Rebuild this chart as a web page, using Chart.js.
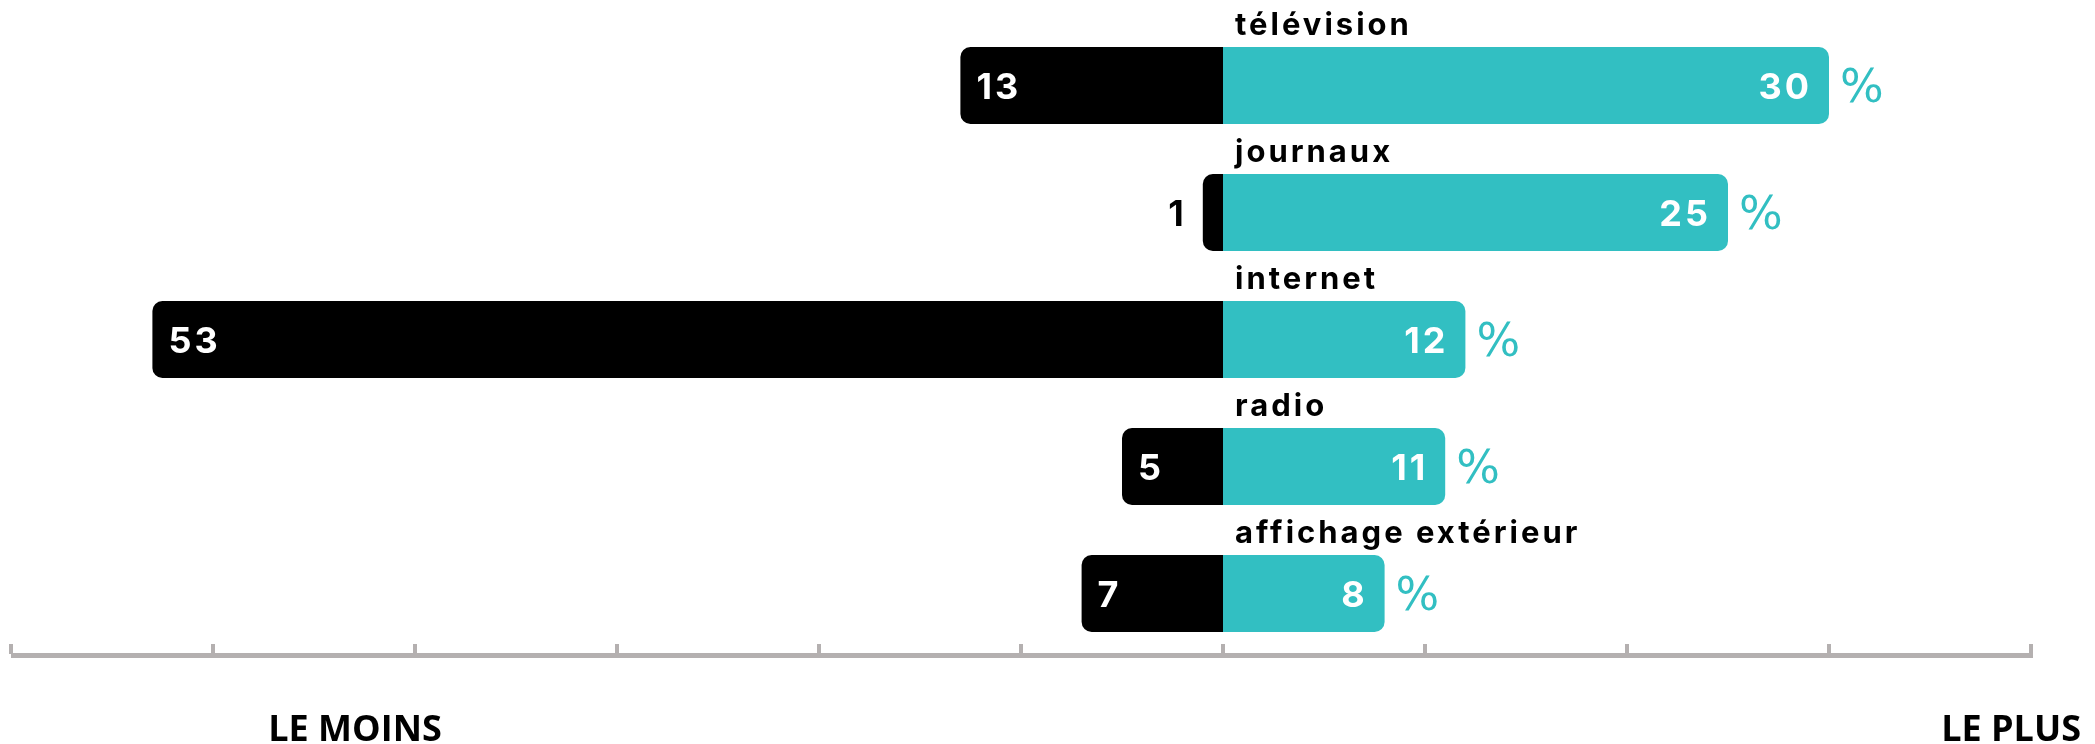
<!DOCTYPE html>
<html>
<head>
<meta charset="utf-8">
<script src="https://cdn.jsdelivr.net/npm/chart.js@4.4.1/dist/chart.umd.min.js"></script>
<style>
  html, body { margin: 0; padding: 0; background: #ffffff; }
  #wrap { width: 2095px; height: 744px; }
</style>
</head>
<body>
<div id="wrap"><canvas id="c" width="2095" height="744"></canvas></div>
<script>
const categories = ['télévision', 'journaux', 'internet', 'radio', 'affichage extérieur'];
const leastValues = [13, 1, 53, 5, 7];
const mostValues = [30, 25, 12, 11, 8];
const axisTicks = [-60, -50, -40, -30, -20, -10, 0, 10, 20, 30, 40];
const endLabels = ['LE MOINS', 'LE PLUS'];
const unitLabel = '%';

const TEAL = '#32bfc2';
const AXIS_GREY = '#b4b0b0';

const labelsPlugin = {
  id: 'customLabels',
  afterDatasetsDraw(chart) {
    const ctx = chart.ctx;
    const xs = chart.scales.x;
    const area = chart.chartArea;
    const metaNeg = chart.getDatasetMeta(0);
    const metaPos = chart.getDatasetMeta(1);
    const zeroX = xs.getPixelForValue(0);

    ctx.save();
    // axis line + upward ticks
    ctx.fillStyle = AXIS_GREY;
    const lineY = area.bottom - 4;
    const left = xs.getPixelForValue(axisTicks[0]);
    const right = xs.getPixelForValue(axisTicks[axisTicks.length - 1]);
    ctx.fillRect(left, lineY, right - left + 2, 5);
    axisTicks.forEach(v => {
      const px = xs.getPixelForValue(v);
      ctx.fillRect(px - 2, lineY - 9, 4, 10);
    });

    categories.forEach((cat, i) => {
      const neg = metaNeg.data[i];
      const pos = metaPos.data[i];
      const cy = pos.y;
      const h = pos.height;
      const top = cy - h / 2;

      // category label
      ctx.fillStyle = '#000000';
      ctx.font = '700 31px Inter';
      ctx.letterSpacing = '3px';
      ctx.textAlign = 'left';
      ctx.textBaseline = 'alphabetic';
      ctx.fillText(cat, zeroX + 12, top - 12);

      // negative (least) value
      ctx.font = '700 36px Inter';
      ctx.letterSpacing = '3px';
      ctx.textBaseline = 'middle';
      const negW = Math.abs(neg.base - neg.x);
      const txtN = String(leastValues[i]);
      const wN = ctx.measureText(txtN).width;
      if (negW > wN + 30) {
        ctx.fillStyle = '#ffffff';
        ctx.textAlign = 'left';
        ctx.fillText(txtN, neg.x + 16, cy + 3);
      } else {
        ctx.fillStyle = '#000000';
        ctx.textAlign = 'right';
        ctx.fillText(txtN, neg.x - 16, cy + 3);
      }

      // positive (most) value
      ctx.fillStyle = '#ffffff';
      ctx.textAlign = 'right';
      ctx.fillText(String(mostValues[i]), pos.x - 17, cy + 3);

      // percent sign
      ctx.fillStyle = TEAL;
      ctx.font = '400 46px "DejaVu Sans"';
      ctx.letterSpacing = '0px';
      ctx.textAlign = 'left';
      ctx.fillText(unitLabel, pos.x + 11, cy + 5);
    });

    // end labels
    ctx.fillStyle = '#000000';
    ctx.font = '700 36px "Open Sans"';
    ctx.letterSpacing = '0px';
    ctx.textBaseline = 'alphabetic';
    ctx.textAlign = 'center';
    ctx.fillText(endLabels[0], area.left + 344, 741);
    ctx.textAlign = 'right';
    ctx.fillText(endLabels[1], chart.width - 14, 741);
    ctx.restore();
  }
};

new Chart(document.getElementById('c'), {
  type: 'bar',
  data: {
    labels: categories,
    datasets: [
      {
        label: 'le moins',
        data: leastValues.map(v => -v),
        backgroundColor: '#000000',
        borderRadius: 10,
        borderSkipped: 'start'
      },
      {
        label: 'le plus',
        data: mostValues,
        backgroundColor: TEAL,
        borderRadius: 10,
        borderSkipped: 'start'
      }
    ]
  },
  options: {
    indexAxis: 'y',
    responsive: false,
    animation: false,
    devicePixelRatio: 1,
    layout: { padding: { left: 11, right: 64, top: 22, bottom: 87 } },
    datasets: { bar: { categoryPercentage: 1, barPercentage: 0.606 } },
    scales: {
      x: { type: 'linear', min: -60, max: 40, stacked: true, display: false },
      y: { type: 'category', stacked: true, display: false, offset: true }
    },
    plugins: { legend: { display: false }, tooltip: { enabled: false } }
  },
  plugins: [labelsPlugin]
});
</script>
</body>
</html>
